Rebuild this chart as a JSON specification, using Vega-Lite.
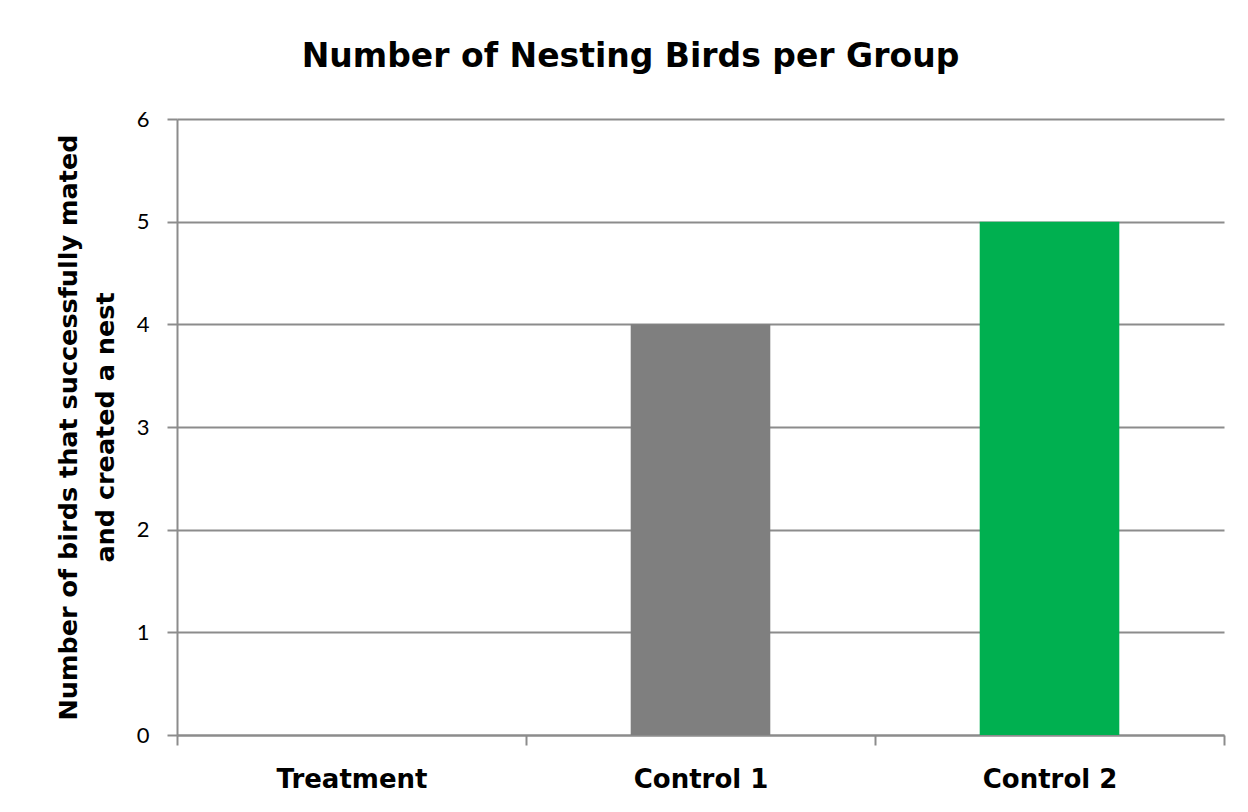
{
  "$schema": "https://vega.github.io/schema/vega-lite/v6.json",
  "autosize": "none",
  "width": 1047,
  "height": 616,
  "padding": {"left": 177, "top": 119, "right": 24, "bottom": 77},
  "background": "white",
  "title": {
    "text": "Number of Nesting Birds per Group",
    "font": "DejaVu Sans",
    "fontSize": 33,
    "fontWeight": "bold",
    "color": "black",
    "anchor": "middle",
    "baseline": "alphabetic",
    "dx": -70,
    "offset": 8
  },
  "data": {
    "values": [
      {"group": "Treatment", "birds": 0},
      {"group": "Control 1", "birds": 4},
      {"group": "Control 2", "birds": 5}
    ]
  },
  "mark": {"type": "bar", "width": {"band": 0.4}},
  "encoding": {
    "x": {
      "field": "group",
      "type": "nominal",
      "sort": ["Treatment", "Control 1", "Control 2"],
      "scale": {"paddingInner": 0, "paddingOuter": 0},
      "axis": {
        "title": null,
        "labelAngle": 0,
        "labelFont": "DejaVu Sans",
        "labelFontSize": 26,
        "labelFontWeight": "bold",
        "labelColor": "black",
        "labelPadding": 21,
        "tickBand": "extent",
        "tickSize": 10,
        "tickColor": "#8c8c8c",
        "tickWidth": 2,
        "domainColor": "#8c8c8c",
        "domainWidth": 2
      }
    },
    "y": {
      "field": "birds",
      "type": "quantitative",
      "scale": {"domain": [0, 6]},
      "axis": {
        "values": [0, 1, 2, 3, 4, 5, 6],
        "title": ["Number of birds that successfully mated", "and created a nest"],
        "titleFont": "DejaVu Sans",
        "titleFontSize": 25.5,
        "titleFontWeight": "bold",
        "titleColor": "black",
        "titleLineHeight": 37,
        "titleX": -109,
        "titleY": 308,
        "titleAngle": -90,
        "titleAlign": "center",
        "titleBaseline": "middle",
        "labelFont": "Lato",
        "labelFontSize": 22,
        "labelColor": "black",
        "labelPadding": 18,
        "tickSize": 10,
        "tickColor": "#8c8c8c",
        "tickWidth": 2,
        "domainColor": "#8c8c8c",
        "domainWidth": 2,
        "grid": true,
        "gridColor": "#8c8c8c",
        "gridWidth": 2
      }
    },
    "color": {
      "field": "group",
      "type": "nominal",
      "scale": {"domain": ["Treatment", "Control 1", "Control 2"], "range": ["#7F7F7F", "#7F7F7F", "#00B050"]},
      "legend": null
    }
  },
  "config": {"view": {"stroke": null}}
}
